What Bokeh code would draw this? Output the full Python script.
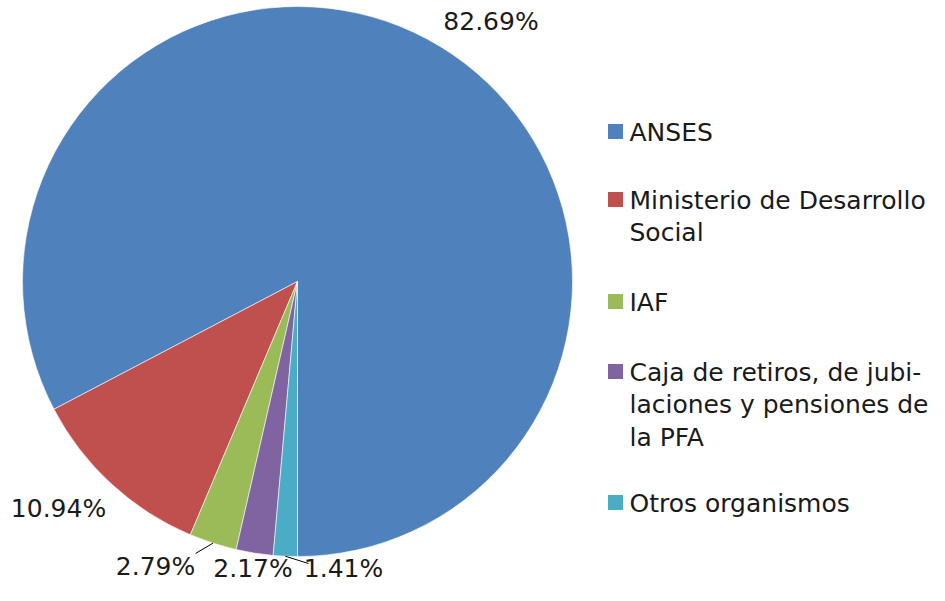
import math
from bokeh.plotting import figure
from bokeh.models import Range1d, ColumnDataSource
from bokeh.core.properties import value
from bokeh.embed import file_html
from bokeh.resources import INLINE

# ---- data ----
categories = ["ANSES", "Ministerio de Desarrollo Social", "IAF",
              "Caja de retiros, de jubilaciones y pensiones de la PFA",
              "Otros organismos"]
legend_lines = [["ANSES"], ["Ministerio de Desarrollo", "Social"], ["IAF"],
                ["Caja de retiros, de jubi-", "laciones y pensiones de", "la PFA"],
                ["Otros organismos"]]
shares = [82.69, 10.94, 2.79, 2.17, 1.41]
share_labels = ["82.69%", "10.94%", "2.79%", "2.17%", "1.41%"]
colors = ["#4F81BD", "#C0504D", "#9BBB59", "#8064A2", "#4BACC6"]

FONT = "DejaVu Sans"
FSIZE = 25
FS = f"{FSIZE}px"
BASE_FIX = 0.38 * FSIZE   # empirical shift of the rendered alphabetic baseline

W, H = 929, 585
def Y(wy):  # picture y (from top) -> data y (y up)
    return H - wy
def YT(baseline):  # text baseline (picture y) -> data y
    return H - (baseline - BASE_FIX)

p = figure(width=W, height=H, output_backend="svg", toolbar_location=None,
           x_range=Range1d(0, W), y_range=Range1d(0, H), min_border=0)
p.axis.visible = False
p.grid.visible = False
p.outline_line_color = None
p.background_fill_color = "white"

cx, cy, r = 297, Y(281), 275
total = sum(shares)
starts, ends, mids = [], [], []
acc = 0.0
for s in shares:
    a0 = -math.pi / 2 + acc / total * 2 * math.pi
    acc += s
    a1 = -math.pi / 2 + acc / total * 2 * math.pi
    starts.append(a0); ends.append(a1); mids.append((a0 + a1) / 2)

src = ColumnDataSource(dict(start=starts, end=ends, color=colors, cat=categories))
p.wedge(x=cx, y=cy, radius=r, start_angle="start", end_angle="end",
        fill_color="color", line_color="white", line_width=0.6, source=src)

# data labels (layout positions: center x, baseline y)
label_pos = [(490.5, 30), (58, 517), (155, 575), (252.5, 577), (343, 577)]
p.text(x=[lp[0] for lp in label_pos], y=[YT(lp[1]) for lp in label_pos], text=share_labels,
       text_font=value(FONT), text_font_size=FS, text_color="#1a1a1a",
       text_align="center", text_baseline="alphabetic")

# leader lines
leader_end = {2: (195, 553), 4: (308, 563)}
for i, (ex, ey) in leader_end.items():
    sx = cx + r * math.cos(mids[i]); sy = cy + r * math.sin(mids[i])
    p.line([sx, ex], [sy, Y(ey)], line_color="black", line_width=1)

# legend
first_baselines = [141, 209, 311, 381, 512]
line_gap = 32.5
sq_x, sq_size, txt_x = 615, 15, 629
p.rect(x=[sq_x] * len(colors), y=[Y(b - 10) for b in first_baselines],
       width=sq_size, height=sq_size, fill_color=colors, line_color=None)
tx, ty, tt = [], [], []
for lines, b in zip(legend_lines, first_baselines):
    for k, t in enumerate(lines):
        tx.append(txt_x); ty.append(YT(b + k * line_gap)); tt.append(t)
p.text(x=tx, y=ty, text=tt, text_font=value(FONT), text_font_size=FS,
       text_color="#1a1a1a", text_align="left", text_baseline="alphabetic")

open("out.html", "w").write(file_html(p, INLINE))
